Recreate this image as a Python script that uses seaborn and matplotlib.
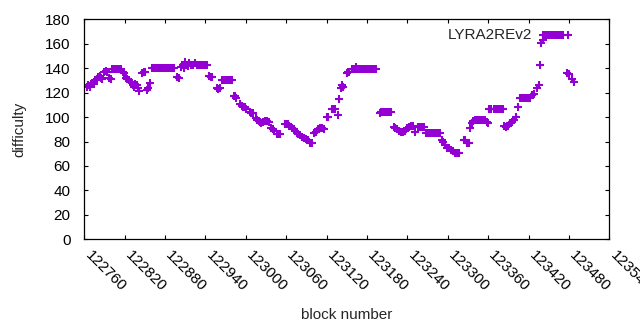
"""
Difficulty per block for LYRA2REv2, gnuplot-like scatter of '+' marks.
"""

import matplotlib
matplotlib.use('Agg')
import matplotlib.pyplot as plt
import matplotlib.transforms as mtransforms
import seaborn as sns
import numpy as np
import pandas as pd

# block numbers and difficulty
blocks = [
    122764, 122766, 122768, 122770, 122772, 122774, 122777, 122779, 122781, 122783,
    122785, 122787, 122790, 122792, 122794, 122797, 122799,
    122801, 122804, 122807, 122810, 122813, 122815,
    122817, 122819, 122822, 122824, 122827, 122829, 122832, 122834, 122836, 122838,
    122840, 122842, 122846, 122848, 122850, 122853, 122855, 122858,
    122861, 122864, 122867, 122870, 122873, 122876, 122879, 122882, 122885, 122888,
    122891, 122893,
    122898, 122900, 122903, 122906, 122908, 122910, 122912, 122914, 122916,
    122919, 122922, 122925, 122928, 122931, 122934, 122937, 122940, 122943,
    122946, 122948, 122950, 122957, 122959, 122961,
    122964, 122967, 122970, 122973, 122976, 122979,
    122982, 122984, 122986, 122992, 122994, 122996, 122999, 123001, 123006, 123008,
    123010, 123015, 123017, 123019, 123021, 123023, 123025, 123028, 123031, 123034,
    123038, 123040, 123042, 123047, 123049, 123051, 123058, 123060, 123062, 123064,
    123068, 123071, 123073, 123076, 123078, 123081, 123084, 123087, 123090, 123093,
    123096, 123098, 123102, 123104, 123107, 123110, 123113, 123116, 123120, 123122,
    123128, 123130, 123132, 123137, 123138, 123141, 123143, 123145, 123150, 123152,
    123154,
    123158, 123161, 123163, 123164, 123167, 123170, 123173, 123176, 123179, 123182,
    123185, 123188, 123191, 123194,
    123199, 123201, 123204, 123207, 123210, 123213, 123216,
    123220, 123222, 123225, 123228, 123231, 123234, 123237, 123240, 123243, 123246,
    123249, 123251,
    123256, 123259, 123262, 123265,
    123267, 123270, 123273, 123276, 123279, 123282, 123285, 123288,
    123291, 123293, 123296, 123299, 123302, 123305, 123308, 123311, 123314, 123317,
    123324, 123326, 123329, 123331, 123333, 123336, 123338, 123341,
    123343, 123346, 123349, 123352, 123355, 123358, 123360,
    123362, 123365, 123368, 123371, 123374, 123377, 123380, 123382,
    123384, 123387, 123390, 123393, 123396, 123399, 123401, 123405,
    123407, 123410, 123413, 123416, 123419, 123422,
    123425, 123428, 123433, 123435, 123437, 123439, 123441,
    123442, 123445, 123448, 123451, 123454, 123457, 123460, 123463, 123466, 123469,
    123471,
    123477, 123480, 123485, 123487,
]

difficulty = [
    125, 126, 125, 127, 128, 127, 130, 131, 133, 134,
    132, 131, 137, 138, 137, 132, 131,
    139, 139, 139, 139, 139, 139,
    137, 136, 132, 131, 130, 129, 126, 125, 127, 126,
    124, 121, 136, 137, 137, 122, 124, 128,
    140, 140, 140, 140, 140, 140, 140, 140, 140, 140,
    140, 140,
    133, 132, 141, 143, 140, 145, 143, 142, 144,
    143, 143, 144, 143, 143, 143, 143, 143, 143,
    134, 133, 133, 124, 123, 124,
    130, 130, 130, 130, 130, 130,
    117, 117, 116, 111, 109, 108, 108, 107, 104, 103,
    103, 99, 98, 97, 96, 95, 96, 97, 97, 96,
    91, 90, 89, 86, 86, 86, 94, 94, 94, 93,
    91, 90, 89, 87, 86, 85, 84, 83, 82, 81,
    79, 79, 87, 88, 90, 91, 91, 90, 100, 100,
    107, 107, 107, 102, 115, 124, 126, 125, 136, 137,
    137,
    139, 139, 141, 139, 139, 139, 139, 139, 139, 139,
    139, 139, 139, 139,
    103, 104, 104, 104, 104, 104, 104,
    92, 91, 90, 89, 88, 88, 89, 91, 92, 93,
    93, 88,
    92, 92, 92, 92,
    87, 87, 87, 87, 87, 87, 87, 87,
    81, 80, 77, 75, 75, 73, 72, 71, 71, 71,
    81, 81, 79, 79, 91, 95, 97, 98,
    98, 98, 98, 98, 98, 96, 95,
    107, 107, 107, 107, 107, 107, 107, 107,
    93, 92, 93, 95, 96, 98, 100, 108,
    116, 116, 116, 116, 116, 116,
    118, 119, 124, 126, 143, 161, 163,
    167, 167, 167, 167, 167, 167, 167, 167, 167, 167,
    167,
    136, 135, 131, 129,
]

x_ticks = list(range(122760, 123541, 60))
y_ticks = list(range(0, 181, 20))

df = pd.DataFrame({'block': blocks, 'difficulty': difficulty})

sns.set_style('ticks')
plt.rcParams['font.family'] = ['Liberation Sans', 'DejaVu Sans']

fig, ax = plt.subplots(figsize=(6.4, 3.3), dpi=100)
fig.subplots_adjust(left=0.1317, right=0.952, top=0.9415, bottom=0.2748)

sns.scatterplot(data=df, x='block', y='difficulty', marker='+', color='#9400d3',
                s=30, linewidth=1.5, label='LYRA2REv2', ax=ax)

ax.set_xlim(122760, 123540)
ax.set_ylim(0, 180)
ax.set_xticks(x_ticks)
ax.set_yticks(y_ticks)
ax.set_xticklabels([str(t) for t in x_ticks], rotation=-45, ha='left',
                   va='center_baseline', rotation_mode='anchor', fontsize=11)
ax.set_yticklabels([str(t) for t in y_ticks], fontsize=11)
ax.tick_params(direction='in', length=3, width=0.8, top=True, right=True,
               color='black', labelcolor='black')
ax.tick_params(axis='x', pad=9)
ax.tick_params(axis='y', pad=10)
# nudge the slanted labels a little to the right, like gnuplot
shift = mtransforms.ScaledTranslation(4 / 100, 0, fig.dpi_scale_trans)
for lbl in ax.get_xticklabels():
    lbl.set_transform(lbl.get_transform() + shift)
for sp in ax.spines.values():
    sp.set_color('black')
    sp.set_linewidth(0.9)

ax.set_xlabel('block number', fontsize=11, labelpad=10)
ax.set_ylabel('difficulty', fontsize=11, labelpad=13)

ax.legend(loc='upper right', frameon=False, markerfirst=False, fontsize=11,
          handletextpad=1.6, borderaxespad=0.2, handlelength=1.5,
          bbox_to_anchor=(0.96, 1.0))

plt.savefig('out.png', dpi=100)
plt.close()
